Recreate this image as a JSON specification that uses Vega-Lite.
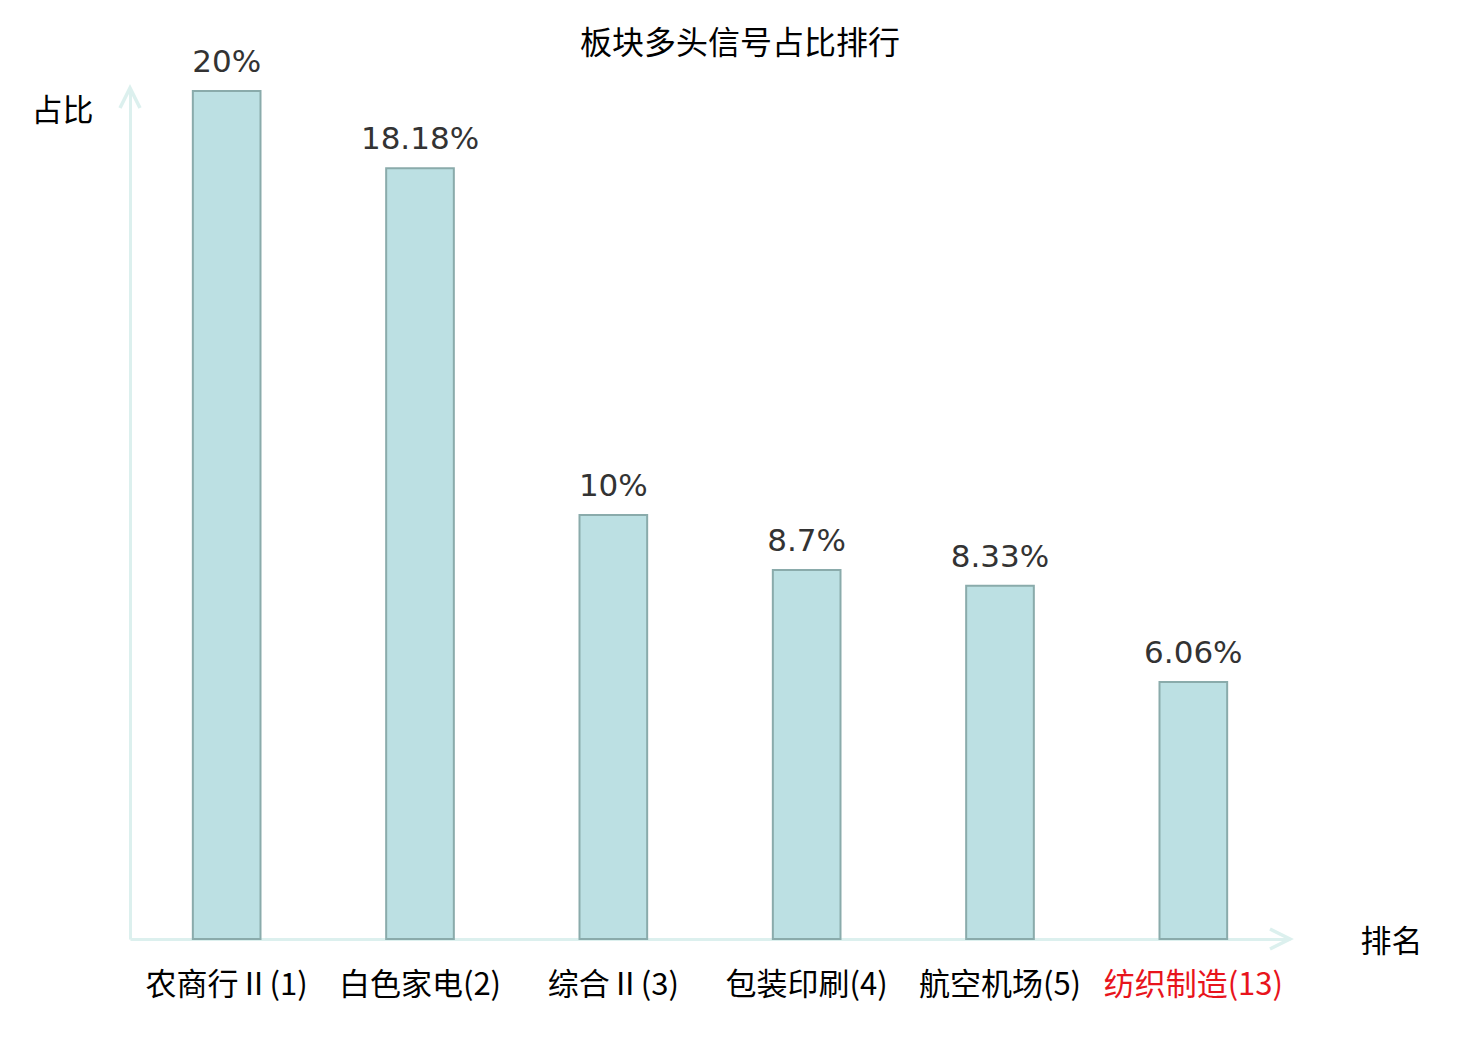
{
  "$schema": "https://vega.github.io/schema/vega-lite/v6.json",
  "autosize": "none",
  "padding": {"left": 130, "top": 91, "right": 190, "bottom": 101},
  "width": 1160,
  "height": 848,
  "background": "white",
  "title": {
    "text": "板块多头信号占比排行",
    "font": "Noto Sans CJK SC",
    "fontSize": 32,
    "fontWeight": "normal",
    "color": "#000000",
    "anchor": "middle",
    "dx": 30,
    "offset": -14
  },
  "layer": [
    {
      "data": {
        "values": [
          {"name": "农商行Ⅱ(1)", "value": 20, "label": "20%"},
          {"name": "白色家电(2)", "value": 18.18, "label": "18.18%"},
          {"name": "综合Ⅱ(3)", "value": 10, "label": "10%"},
          {"name": "包装印刷(4)", "value": 8.7, "label": "8.7%"},
          {"name": "航空机场(5)", "value": 8.33, "label": "8.33%"},
          {"name": "纺织制造(13)", "value": 6.06, "label": "6.06%"}
        ]
      },
      "encoding": {
        "x": {
          "field": "name",
          "type": "nominal",
          "sort": null,
          "scale": {"paddingInner": 0.65, "paddingOuter": 0.325},
          "axis": {
            "title": "排名",
            "titleFont": "Noto Sans CJK SC",
            "titleFontSize": 31,
            "titleFontWeight": "normal",
            "titleColor": "#000000",
            "titleX": 1261,
            "titleY": 3,
            "titleAlign": "center",
            "titleBaseline": "middle",
            "labelFont": "Noto Sans CJK SC",
            "labelFontSize": 31,
            "labelAngle": 0,
            "labelPadding": 31,
            "labelColor": {"condition": {"test": "datum.value == '纺织制造(13)'", "value": "#E8141C"}, "value": "#000000"},
            "ticks": false,
            "domainColor": "#DCF0EE",
            "domainWidth": 3
          }
        },
        "y": {
          "field": "value",
          "type": "quantitative",
          "scale": {"domain": [0, 20], "nice": false},
          "axis": {
            "title": "占比",
            "titleFont": "Noto Sans CJK SC",
            "titleFontSize": 31,
            "titleFontWeight": "normal",
            "titleColor": "#000000",
            "titleAngle": 0,
            "titleX": -68,
            "titleY": 20,
            "titleAlign": "center",
            "titleBaseline": "middle",
            "labels": false,
            "ticks": false,
            "grid": false,
            "domainColor": "#DCF0EE",
            "domainWidth": 3
          }
        }
      },
      "layer": [
        {
          "mark": {"type": "bar", "fill": "#BCE0E3", "stroke": "#8AABAB", "strokeWidth": 2}
        },
        {
          "mark": {"type": "text", "font": "DejaVu Sans", "fontSize": 31, "color": "#333333", "baseline": "alphabetic", "dy": -19},
          "encoding": {"text": {"field": "label"}}
        }
      ]
    },
    {
      "data": {"values": [{"ax": 0, "ay": 20.07, "dir": "up"}, {"ax": 1, "ay": 0, "dir": "right"}]},
      "mark": {"type": "point", "filled": false, "stroke": "#DCF0EE", "strokeWidth": 3.5, "size": 400, "opacity": 1},
      "encoding": {
        "x": {"field": "ax", "type": "quantitative", "scale": {"domain": [0, 1], "nice": false, "zero": false}, "axis": null},
        "y": {"field": "ay", "type": "quantitative"},
        "shape": {
          "field": "dir",
          "type": "nominal",
          "scale": {"domain": ["up", "right"], "range": ["M-1,2L0,0L1,2", "M-2,-1L0,0L-2,1"]},
          "legend": null
        }
      }
    }
  ],
  "resolve": {"scale": {"x": "independent"}},
  "config": {"view": {"stroke": null}}
}
